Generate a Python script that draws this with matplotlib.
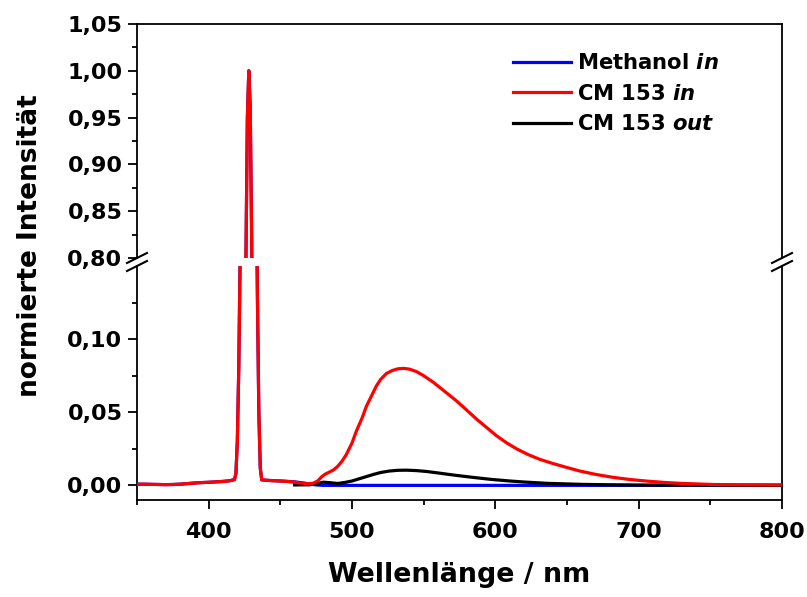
import numpy as np
import matplotlib.pyplot as plt
from matplotlib.ticker import MultipleLocator, FuncFormatter
from matplotlib.lines import Line2D

plt.rcParams['font.family'] = 'DejaVu Sans'
plt.rcParams['font.weight'] = 'bold'
plt.rcParams['axes.labelweight'] = 'bold'
plt.rcParams['mathtext.fontset'] = 'custom'
plt.rcParams['mathtext.rm'] = 'DejaVu Sans:bold'
plt.rcParams['mathtext.it'] = 'DejaVu Sans:italic:bold'
plt.rcParams['mathtext.bf'] = 'DejaVu Sans:bold'

# Methanol in (excitation peak only)
wl_meoh = [350, 355, 360, 365, 370, 375, 380, 385, 390, 395, 400, 405, 410, 415, 418,
           419, 420, 421, 422, 423, 424, 425, 426, 427, 428, 429, 430, 431, 432, 433,
           434, 435, 436, 437, 440, 445, 450, 455, 460, 465, 470, 475, 480, 500, 550,
           600, 650, 700, 750, 800]
int_meoh = [0.0008, 0.0008, 0.0007, 0.0006, 0.0005, 0.0006, 0.0008, 0.0012, 0.0016, 0.0019,
            0.0021, 0.0024, 0.0027, 0.0032, 0.0040,
            0.008, 0.03, 0.08, 0.16, 0.28, 0.45, 0.62, 0.80, 0.95, 1.00, 0.96, 0.82, 0.62,
            0.42, 0.24, 0.13, 0.05, 0.012, 0.0038, 0.0035, 0.0032, 0.0030, 0.0027, 0.0024,
            0.0018, 0.0010, 0.0003, 0.0, 0.0, 0.0, 0.0, 0.0, 0.0, 0.0, 0.0]

# CM 153 in (excitation peak + fluorescence)
wl_cm_in = [350, 355, 360, 365, 370, 375, 380, 385, 390, 395, 400, 405, 410, 415, 418,
            419, 420, 421, 422, 423, 424, 425, 426, 427, 428, 429, 430, 431, 432, 433,
            434, 435, 436, 437, 440, 445, 450, 455, 460, 465, 470, 473, 476, 479, 481,
            484, 487, 490, 493, 496, 500, 503, 507, 510, 514, 517, 520, 524, 528, 532,
            536, 540, 545, 550, 557, 565, 573, 580, 587, 594, 601, 608, 615, 623, 631,
            640, 650, 659, 670, 682, 694, 706, 718, 729, 740, 752, 770, 800]
int_cm_in = [0.0008, 0.0008, 0.0007, 0.0006, 0.0005, 0.0006, 0.0008, 0.0012, 0.0016, 0.0019,
             0.0021, 0.0024, 0.0027, 0.0032, 0.0040,
             0.008, 0.03, 0.08, 0.16, 0.28, 0.45, 0.62, 0.80, 0.95, 1.00, 0.96, 0.82, 0.62,
             0.42, 0.24, 0.13, 0.05, 0.012, 0.0038, 0.0035, 0.0032, 0.0030, 0.0027, 0.0022,
             0.0015, 0.0011, 0.0015, 0.0030, 0.0060, 0.0075,
             0.0090, 0.0105, 0.0130, 0.0165, 0.0210, 0.0290, 0.0370, 0.0460, 0.0540, 0.0620,
             0.0680, 0.0725, 0.0765, 0.0785, 0.0797,
             0.0800, 0.0795, 0.0778, 0.0750, 0.0703, 0.0640, 0.0577, 0.0515, 0.0452, 0.0395,
             0.0338, 0.0290, 0.0249, 0.0210, 0.0178,
             0.0150, 0.0122, 0.0098, 0.0075, 0.0055, 0.0040, 0.0029, 0.0020, 0.0014, 0.0010,
             0.0006, 0.0004, 0.0003]

# CM 153 out
wl_cm_out = [460, 470, 475, 480, 485, 490, 495, 500, 505, 510, 515, 520, 526, 532, 538,
             545, 552, 560, 566, 573, 585, 597, 610, 620, 636, 660, 680, 700, 750, 800]
int_cm_out = [0.0003, 0.0004, 0.0010, 0.0022, 0.0018, 0.0013, 0.0020, 0.0030, 0.0045, 0.0060,
              0.0075, 0.0088, 0.0098, 0.0103, 0.0104,
              0.0101, 0.0095, 0.0085, 0.0077, 0.0068, 0.0054, 0.0041, 0.0030, 0.0023, 0.0014,
              0.0007, 0.0004, 0.0002, 0.0001, 0.0]

labels = ['Methanol $\\mathit{in}$', 'CM 153 $\\mathit{in}$', 'CM 153 $\\mathit{out}$']
colors = ['#0000ff', '#ff0000', '#000000']

W, H = 807, 597
fig = plt.figure(figsize=(W / 100, H / 100), dpi=100)
left, right = 137 / W, 782 / W
ax_top = fig.add_axes([left, 1 - 258 / H, right - left, 234 / H])
ax_bot = fig.add_axes([left, 1 - 500 / H, right - left, 234 / H], sharex=ax_top)

for ax in (ax_top, ax_bot):
    l1, = ax.plot(wl_meoh, int_meoh, color=colors[0], lw=2.3, zorder=2)
    l3, = ax.plot(wl_cm_out, int_cm_out, color=colors[2], lw=2.3, zorder=3)
    l2, = ax.plot(wl_cm_in, int_cm_in, color=colors[1], lw=2.3, zorder=4)
    for s in ax.spines.values():
        s.set_linewidth(1.3)
    ax.tick_params(which='both', direction='out', width=1.3, labelsize=16, right=False, top=False)
    ax.tick_params(which='major', length=6.5, pad=4)
    ax.tick_params(which='minor', length=3.5)

ax_top.set_xlim(350, 800)
ax_top.set_ylim(0.80, 1.05)
ax_bot.set_ylim(-0.01, 0.15)

ax_top.spines['bottom'].set_visible(False)
ax_bot.spines['top'].set_visible(False)
ax_top.tick_params(axis='x', which='both', bottom=False, labelbottom=False)
ax_bot.tick_params(axis='x', which='major', pad=9)

fmt = FuncFormatter(lambda v, p: f'{v:.2f}'.replace('.', ','))
ax_top.yaxis.set_major_locator(MultipleLocator(0.05))
ax_top.yaxis.set_minor_locator(MultipleLocator(0.025))
ax_top.yaxis.set_major_formatter(fmt)
ax_bot.set_yticks([0.0, 0.05, 0.10])
ax_bot.set_yticks([0.025, 0.075, 0.125], minor=True)
ax_bot.yaxis.set_major_formatter(fmt)
ax_bot.xaxis.set_major_locator(MultipleLocator(100))
ax_bot.xaxis.set_minor_locator(MultipleLocator(50))

ax_bot.set_xlabel('Wellenlänge / nm', fontsize=19.4, fontweight='bold', labelpad=15)
fig.text(30 / W, 1 - 246 / H, 'normierte Intensität', rotation=90, fontsize=19,
         ha='center', va='center', fontweight='bold')

# break marks on both vertical spines
for xc in (137, 782):
    for dy in (-4, 4):
        x0, x1 = xc - 10, xc + 10
        y0, y1 = 262 + dy + 5, 262 + dy - 5
        fig.add_artist(Line2D([x0 / W, x1 / W], [1 - y0 / H, 1 - y1 / H],
                              color='black', lw=1.5, transform=fig.transFigure))

ax_top.legend([l1, l2, l3], labels, loc='upper left', frameon=False, fontsize=15.2,
              handlelength=2.75, handletextpad=0.3, labelspacing=0.5, borderpad=0,
              borderaxespad=0, bbox_to_anchor=(513 / W, 1 - 53 / H),
              bbox_transform=fig.transFigure)

fig.savefig('out.png', dpi=100)
